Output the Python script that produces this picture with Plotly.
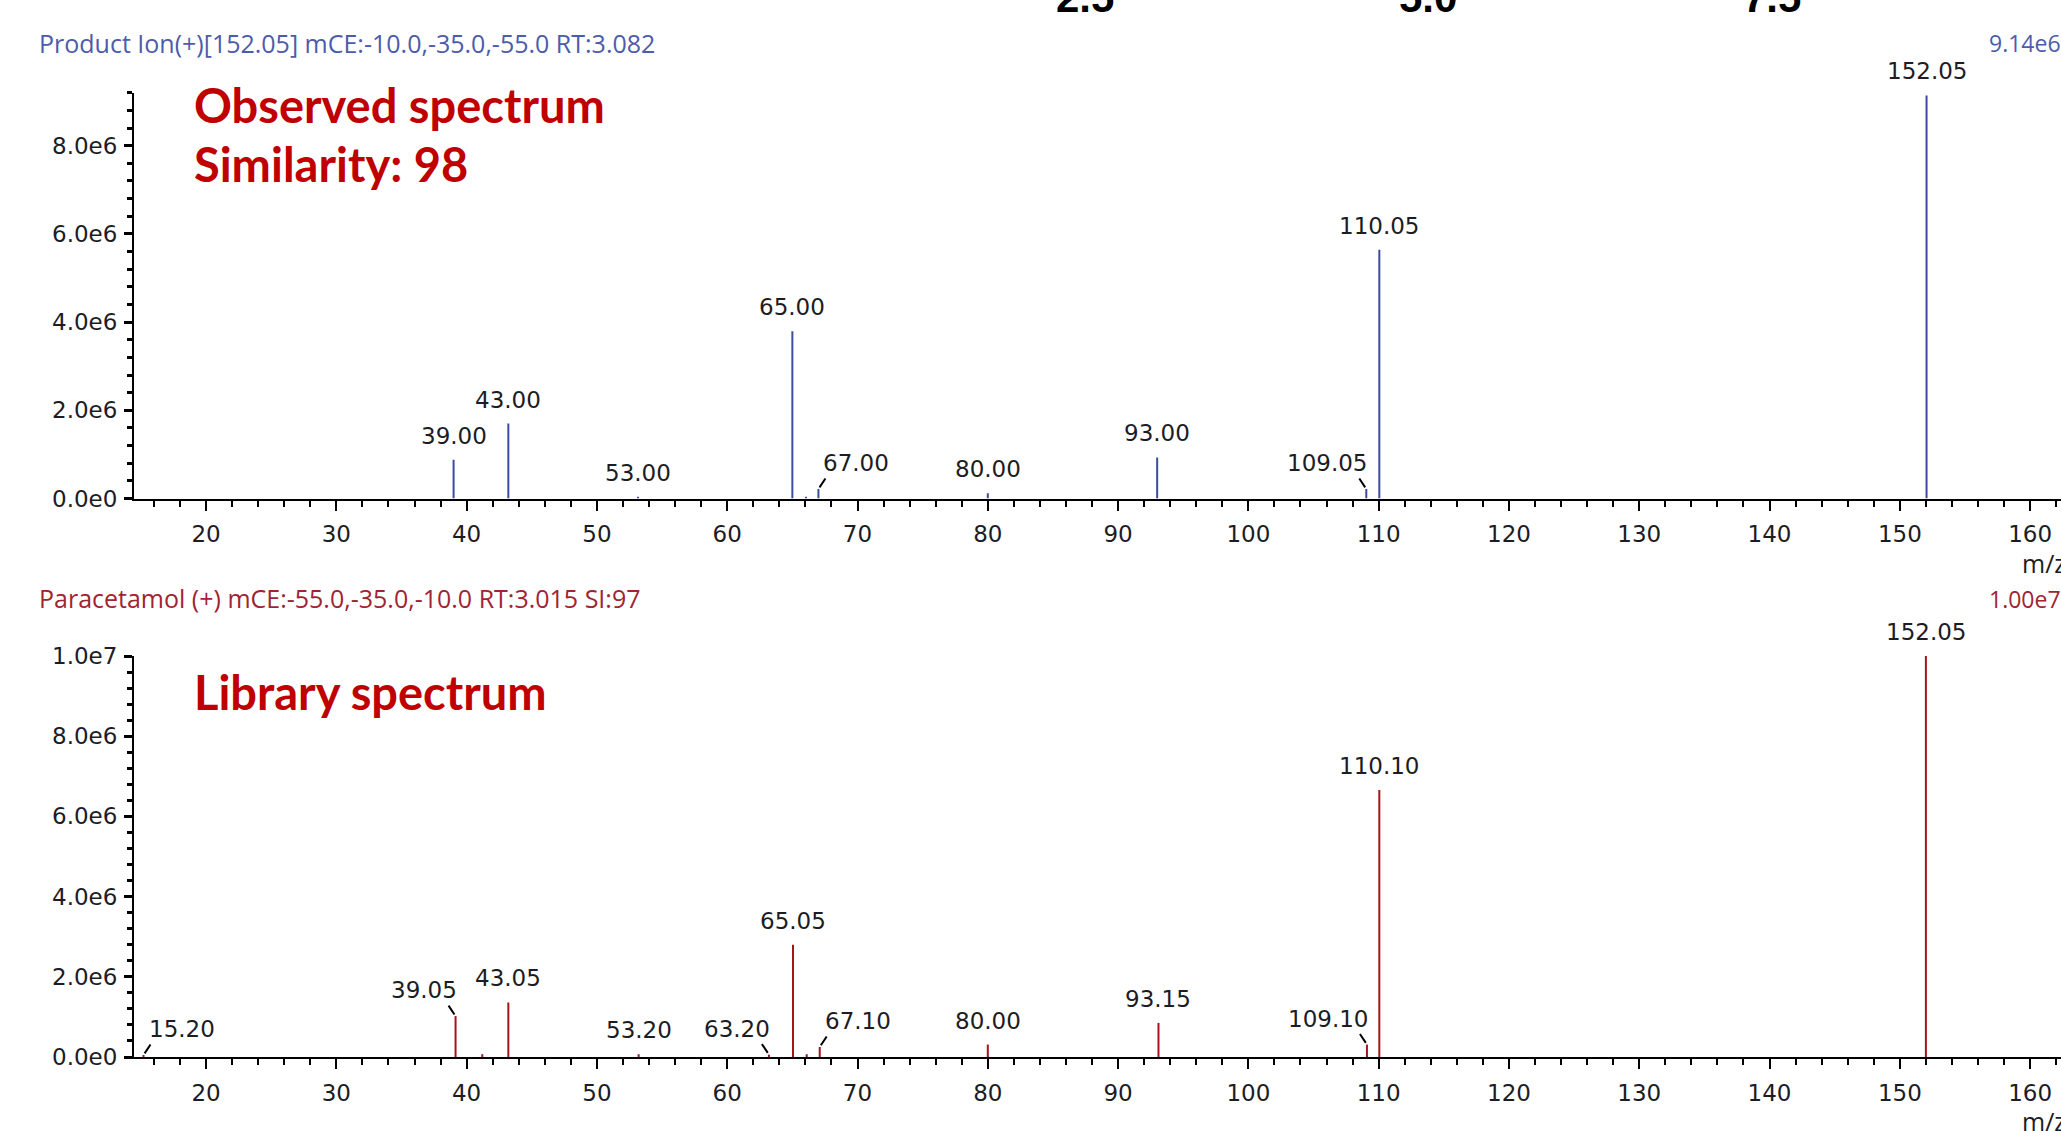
import plotly.graph_objects as go

# ---------------- data ----------------
obs_mz = [39.00, 43.20, 53.15, 65.00, 66.05, 67.00, 80.00, 93.00, 109.05, 110.05, 152.05]
obs_int = [0.88e6, 1.70e6, 0.04e6, 3.79e6, 0.04e6, 0.215e6, 0.12e6, 0.93e6, 0.215e6, 5.64e6, 9.14e6]
obs_labels = ["39.00", "43.00", "53.00", "65.00", "", "67.00", "80.00", "93.00", "109.05", "110.05", "152.05"]
obs_side = ["c", "c", "c", "c", "", "r", "c", "c", "l", "c", "c"]

lib_mz = [15.20, 39.15, 41.20, 43.20, 53.20, 63.20, 65.05, 66.10, 67.10, 80.00, 93.10, 109.10, 110.05, 152.00]
lib_int = [0.05e6, 1.02e6, 0.07e6, 1.36e6, 0.07e6, 0.06e6, 2.80e6, 0.07e6, 0.25e6, 0.31e6, 0.85e6, 0.31e6, 6.66e6, 1.00e7]
lib_labels = ["15.20", "39.05", "", "43.05", "53.20", "63.20", "65.05", "", "67.10", "80.00", "93.15", "109.10", "110.10", "152.05"]
lib_side = ["r", "l", "", "c", "c", "l", "c", "", "r", "c", "c", "l", "c", "c"]

obs_ytickvals = [0, 2e6, 4e6, 6e6, 8e6]
obs_yticktext = ["0.0e0", "2.0e6", "4.0e6", "6.0e6", "8.0e6"]
lib_ytickvals = [0, 2e6, 4e6, 6e6, 8e6, 1e7]
lib_yticktext = ["0.0e0", "2.0e6", "4.0e6", "6.0e6", "8.0e6", "1.0e7"]

obs_header = "Product Ion(+)[152.05] mCE:-10.0,-35.0,-55.0 RT:3.082"
obs_max = "9.14e6"
lib_header = "Paracetamol (+) mCE:-55.0,-35.0,-10.0 RT:3.015 SI:97"
lib_max = "1.00e7"
fragments = ["2.5", "5.0", "7.5"]

# ---------------- style ----------------
W, H = 2061, 1131
ML = 134
BLUE_LINE = "#3b4c9e"
BLUE_TXT = "#4c5cab"
RED_LINE = "#a3141c"
RED_TXT = "#a02432"
TITLE_RED = "#c00000"
TXT = "#1c1c24"
FONT = "DejaVu Sans"
HFONT = "Open Sans"

def px2x(px):
    return (px - ML) / (W - ML)

def py2y(py):
    return 1 - py / H

def stems(mz, inten):
    xs, ys = [], []
    for m, v in zip(mz, inten):
        xs += [m, m, None]
        ys += [0, v, None]
    return xs, ys

fig = go.Figure()
x1, y1 = stems(obs_mz, obs_int)
x2, y2 = stems(lib_mz, lib_int)
fig.add_trace(go.Scatter(x=x1, y=y1, mode="lines", line=dict(color=BLUE_LINE, width=2),
                         xaxis="x", yaxis="y", hoverinfo="skip", showlegend=False))
fig.add_trace(go.Scatter(x=x2, y=y2, mode="lines", line=dict(color=RED_LINE, width=2),
                         xaxis="x2", yaxis="y2", hoverinfo="skip", showlegend=False))

xr = [14.47, 162.37]
xaxis_common = dict(
    range=xr, domain=[0, 1], showgrid=False, zeroline=False,
    showline=True, linecolor="black", linewidth=2,
    ticks="outside", tickmode="linear", tick0=0, dtick=10,
    ticklen=10, tickwidth=2, tickcolor="black",
    minor=dict(ticks="outside", tickmode="linear", tick0=0, dtick=2, ticklen=6, tickwidth=2, tickcolor="black"),
    tickfont=dict(family=FONT, size=23, color=TXT),
    ticklabelstandoff=4, automargin=False, fixedrange=True,
)
yaxis_common = dict(
    showgrid=False, zeroline=False, showline=True, linecolor="black", linewidth=2,
    ticks="outside", tickmode="array", ticklen=8, tickwidth=2.5, tickcolor="black",
    minor=dict(ticks="outside", tickmode="linear", tick0=0, dtick=0.4e6, ticklen=5, tickwidth=2.5, tickcolor="black"),
    tickfont=dict(family=FONT, size=23, color=TXT),
    ticklabelstandoff=2, automargin=False, fixedrange=True,
)

top_bot_px, top_scale = 498.5, 44.1 / 1e6
bot_bot_px, bot_scale = 1057.0, 40.1 / 1e6
top_range = [0, 9.2e6]
bot_range = [0, 1.0e7]
top_dom = [py2y(top_bot_px), py2y(top_bot_px - top_range[1] * top_scale)]
bot_dom = [py2y(bot_bot_px), py2y(bot_bot_px - bot_range[1] * bot_scale)]

fig.update_layout(
    width=W, height=H, paper_bgcolor="white", plot_bgcolor="white",
    margin=dict(l=ML, r=0, t=0, b=0, pad=0),
    xaxis=dict(xaxis_common, anchor="y"),
    yaxis=dict(yaxis_common, domain=top_dom, range=top_range, anchor="x",
               tickvals=obs_ytickvals, ticktext=obs_yticktext),
    xaxis2=dict(xaxis_common, anchor="y2"),
    yaxis2=dict(yaxis_common, domain=bot_dom, range=bot_range, anchor="x2",
                tickvals=lib_ytickvals, ticktext=lib_yticktext),
    showlegend=False,
)

ann = []

def peak_labels(mz, inten, labels, sides, xref, yref):
    for m, v, lab, s in zip(mz, inten, labels, sides):
        if not lab:
            continue
        base = dict(x=m, y=v, xref=xref, yref=yref, text=lab,
                    font=dict(family=FONT, size=23, color=TXT))
        if s == "c":
            ann.append(dict(base, showarrow=False, xanchor="center", yanchor="middle", yshift=24))
        else:
            sign = 1 if s == "r" else -1
            ann.append(dict(base, showarrow=False, xanchor="left" if s == "r" else "right",
                            yanchor="middle", yshift=26, xshift=3 if s == "r" else 3))
            ann.append(dict(x=m, y=v, xref=xref, yref=yref, text="", showarrow=True,
                            arrowhead=0, arrowwidth=2, arrowcolor="black",
                            ax=8 * sign, ay=-12, axref="pixel", ayref="pixel", standoff=2))

peak_labels(obs_mz, obs_int, obs_labels, obs_side, "x", "y")
peak_labels(lib_mz, lib_int, lib_labels, lib_side, "x2", "y2")

def text_ann(text, px, py, color, size, family=HFONT, xanchor="left", bold=False):
    ann.append(dict(text=f"<b>{text}</b>" if bold else text, x=px2x(px), y=py2y(py),
                    xref="paper", yref="paper", showarrow=False, xanchor=xanchor, yanchor="middle",
                    font=dict(family=family, size=size, color=color)))

text_ann(obs_header, 37, 43, BLUE_TXT, 25)
text_ann(obs_max, 2063, 43, BLUE_TXT, 23, xanchor="right")
text_ann(lib_header, 37, 598, RED_TXT, 25)
text_ann(lib_max, 2063, 599, RED_TXT, 23, xanchor="right")
text_ann("Observed spectrum", 192, 105, TITLE_RED, 47, family="Lato", bold=True)
text_ann("Similarity: 98", 192, 164, TITLE_RED, 47, family="Lato", bold=True)
text_ann("Library spectrum", 192, 692, TITLE_RED, 47, family="Lato", bold=True)
text_ann("m/z", 2020, 563, TXT, 25, family=HFONT)
text_ann("m/z", 2020, 1121, TXT, 25, family=HFONT)
for frag, cx in zip(fragments, [1085, 1428, 1772]):
    text_ann(frag, cx, -3, "black", 42, family="Liberation Sans", xanchor="center", bold=True)

fig.update_layout(annotations=ann)
fig.write_html("out.html", config={"displayModeBar": False},
               post_script="document.body.style.margin='0';document.body.style.overflow='hidden';")
